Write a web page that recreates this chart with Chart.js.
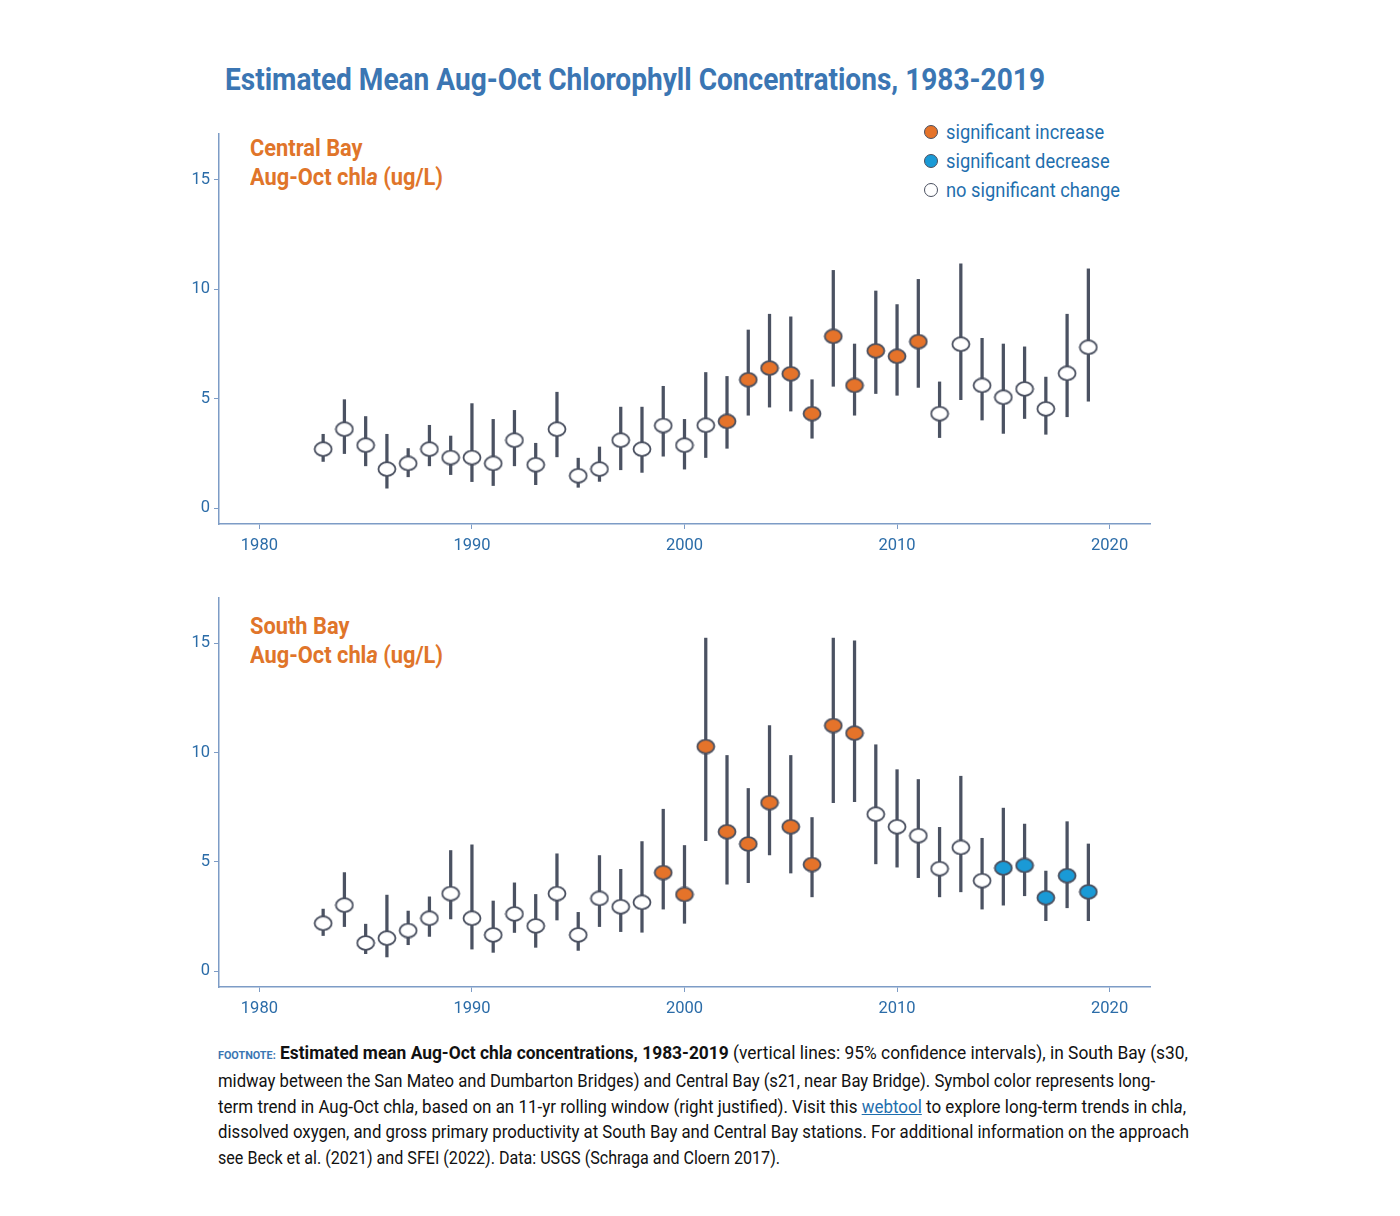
<!DOCTYPE html>
<html>
<head>
<meta charset="utf-8">
<script src="https://cdn.jsdelivr.net/npm/chart.js@4.4.1/dist/chart.umd.min.js"></script>
<style>
  body { margin:0; background:#fff; width:1400px; height:1216px; position:relative; overflow:hidden;
         font-family:Roboto,'Noto Sans',sans-serif; }
  .fit { position:absolute; white-space:nowrap; transform-origin:0 0; }
  #title { left:225px; top:61px; margin:0; font-size:31px; font-weight:bold; color:#3b76b3; }
  .panel { left:250px; color:#e0752a; font-weight:bold; font-size:24px; line-height:29px; }
  .wrap { position:absolute; left:170px; width:990px; }
  #legend { left:946px; top:118px; color:#1f6fae; font-size:21px; line-height:29px; }
  .dot { position:absolute; left:924px; width:12px; height:12px; border-radius:50%; border:1.6px solid #4a5060; }
  #foot { position:absolute; left:218px; top:1041px; font-size:18.5px; line-height:25.8px; color:#111; }
  #foot .ln { white-space:nowrap; transform-origin:0 0; width:max-content; }
  #foot .lab { color:#3b76b3; font-weight:bold; font-size:11.5px; }
  #foot a { color:#1f6fae; }
</style>
</head>
<body>
<h1 id="title" class="fit">Estimated Mean Aug-Oct Chlorophyll Concentrations, 1983-2019</h1>
<div class="panel fit" style="top:134px"><div>Central Bay</div><div class="w">Aug-Oct chl<i>a</i> (ug/L)</div></div>
<div class="panel fit" style="top:612px"><div>South Bay</div><div class="w">Aug-Oct chl<i>a</i> (ug/L)</div></div>
<span class="dot" style="top:125px;background:#e5732a"></span>
<span class="dot" style="top:154px;background:#1a9ad6"></span>
<span class="dot" style="top:183px;background:#fff"></span>
<div id="legend" class="fit">
  <div>significant increase</div>
  <div>significant decrease</div>
  <div class="w">no significant change</div>
</div>
<div class="wrap" style="top:120px;height:445px"><canvas id="central"></canvas></div>
<div class="wrap" style="top:584px;height:444px"><canvas id="south"></canvas></div>
<div id="foot">
  <div class="ln" data-w="970"><span class="lab">FOOTNOTE:</span> <b>Estimated mean Aug-Oct chl<i>a</i> concentrations, 1983-2019</b> (vertical lines: 95% confidence intervals), in South Bay (s30,</div>
  <div class="ln" data-w="937">midway between the San Mateo and Dumbarton Bridges) and Central Bay (s21, near Bay Bridge). Symbol color represents long-</div>
  <div class="ln" data-w="968">term trend in Aug-Oct chl<i>a</i>, based on an 11-yr rolling window (right justified). Visit this <a href="#">webtool</a> to explore long-term trends in chl<i>a</i>,</div>
  <div class="ln" data-w="971">dissolved oxygen, and gross primary productivity at South Bay and Central Bay stations. For additional information on the approach</div>
  <div class="ln" data-w="562">see Beck et al. (2021) and SFEI (2022). Data: USGS (Schraga and Cloern 2017).</div>
</div>

<script>
var years = [1983,1984,1985,1986,1987,1988,1989,1990,1991,1992,1993,1994,1995,1996,1997,1998,1999,
             2000,2001,2002,2003,2004,2005,2006,2007,2008,2009,2010,2011,2012,2013,2014,2015,2016,2017,2018,2019];

// Central Bay (s21)
var cbMean = [2.69,3.60,2.87,1.78,2.04,2.69,2.31,2.31,2.04,3.10,1.98,3.60,1.48,1.78,3.10,2.69,3.77,
              2.87,3.78,3.96,5.86,6.39,6.13,4.31,7.84,5.60,7.18,6.93,7.60,4.31,7.48,5.60,5.06,5.44,4.53,6.15,7.34];
var cbLow  = [2.13,2.49,1.93,0.91,1.43,1.93,1.53,1.21,1.03,1.93,1.07,2.34,0.95,1.22,1.75,1.63,2.37,
              1.78,2.31,2.73,4.24,4.61,4.43,3.19,5.56,4.24,5.23,5.15,5.51,3.22,4.95,4.02,3.41,4.09,3.37,4.17,4.88];
var cbHigh = [3.37,4.95,4.18,3.37,2.72,3.78,3.29,4.77,4.05,4.46,2.96,5.29,2.28,2.79,4.61,4.61,5.56,
              4.05,6.19,6.01,8.13,8.85,8.73,5.86,10.85,7.49,9.91,9.29,10.44,5.76,11.15,7.75,7.49,7.36,5.98,8.85,10.92];
var cbTrend = ['n','n','n','n','n','n','n','n','n','n','n','n','n','n','n','n','n',
               'n','n','i','i','i','i','i','i','i','i','i','i','n','n','n','n','n','n','n','n'];

// South Bay (s30)
var sbMean = [2.19,3.02,1.29,1.51,1.86,2.42,3.55,2.42,1.66,2.62,2.07,3.55,1.66,3.33,2.95,3.15,4.51,
              3.51,10.28,6.38,5.82,7.71,6.61,4.88,11.24,10.89,7.18,6.61,6.20,4.69,5.66,4.14,4.72,4.84,3.36,4.37,3.63];
var sbLow  = [1.63,2.04,0.80,0.65,1.21,1.59,2.39,1.01,0.86,1.77,1.09,2.34,0.95,2.04,1.81,1.78,2.84,
              2.19,5.97,3.98,4.05,5.32,4.49,3.40,7.71,7.76,4.91,4.76,4.28,3.40,3.63,2.84,3.02,3.45,2.31,2.90,2.31];
var sbHigh = [2.84,4.51,2.15,3.48,2.75,3.40,5.52,5.78,3.21,4.04,3.51,5.37,2.69,5.29,4.66,5.93,7.41,
              5.75,15.24,9.87,8.36,11.24,9.87,7.03,15.24,15.12,10.36,9.22,8.77,6.58,8.92,6.08,7.46,6.73,4.58,6.84,5.82];
var sbTrend = ['n','n','n','n','n','n','n','n','n','n','n','n','n','n','n','n','i',
               'i','i','i','i','i','i','i','i','i','n','n','n','n','n','n','d','d','d','d','d'];

var xTicks = [1980,1990,2000,2010,2020];
var yTicks = [0,5,10,15];

var trendFill = { i:'#e5732a', d:'#1a9ad6', n:'#ffffff' };
var FONT = "Roboto,'Noto Sans',sans-serif";
var axisCol = '#7d9cc6';
var tickCol = '#2b6ca8';
var barCol = '#4b5262';

// squeeze text blocks horizontally so they match the condensed type of the original
function textWidth(el){
  var r = document.createRange();
  r.selectNodeContents(el);
  return r.getBoundingClientRect().width;
}
function fitX(el, target){
  var ref = el.querySelector('.w') || el;
  el.style.transform = 'scaleX(' + (target / textWidth(ref)) + ')';
}
fitX(document.getElementById('title'), 820);
document.querySelectorAll('.panel').forEach(function(p){ fitX(p, 193); });
fitX(document.getElementById('legend'), 174);
document.querySelectorAll('#foot .ln').forEach(function(l){ fitX(l, +l.dataset.w); });

// oval marker drawn into a small canvas
function oval(fill){
  var c = document.createElement('canvas');
  c.width = 20; c.height = 16;
  var g = c.getContext('2d');
  g.beginPath();
  g.ellipse(10, 8, 8.5, 6.8, 0, 0, Math.PI*2);
  g.fillStyle = fill; g.fill();
  g.lineWidth = 1.8; g.strokeStyle = '#4a5060'; g.stroke();
  return c;
}
var markers = { i:oval(trendFill.i), d:oval(trendFill.d), n:oval(trendFill.n) };

function makeChart(id, mean, low, high, trend){
  var bars = years.map(function(y,k){ return { x:y, y:[low[k], high[k]] }; });
  var pts = years.map(function(y,k){ return { x:y, y:mean[k] }; });
  new Chart(document.getElementById(id), {
    data: {
      datasets: [
        { type:'bar', data:bars, backgroundColor:barCol, barThickness:2.6, order:2 },
        { type:'scatter', data:pts, order:1,
          pointStyle: trend.map(function(t){ return markers[t]; }),
          pointRadius:8, pointHoverRadius:8 }
      ]
    },
    options: {
      responsive:true, maintainAspectRatio:false, animation:false,
      layout:{ padding:{ top:11, right:10 } },
      plugins:{ legend:{ display:false }, tooltip:{ enabled:false } },
      scales:{
        x:{ type:'linear', min:1978.1, max:2021.9, offset:false,
            afterBuildTicks:function(s){ s.ticks = xTicks.map(function(v){ return {value:v}; }); },
            afterFit:function(s){ s.height = 41; },
            grid:{ offset:false, drawOnChartArea:false, drawTicks:true, tickLength:5, color:axisCol },
            border:{ color:axisCol, width:1.5 },
            ticks:{ color:tickCol, font:{ family:FONT, size:16.5 }, padding:7, maxRotation:0,
                    callback:function(v){ return String(v); } } },
        y:{ type:'linear', min:-0.725, max:17.08,
            afterBuildTicks:function(s){ s.ticks = yTicks.map(function(v){ return {value:v}; }); },
            afterFit:function(s){ s.width = 49; },
            grid:{ drawOnChartArea:false, drawTicks:true, tickLength:5, color:axisCol },
            border:{ color:axisCol, width:1.5 },
            ticks:{ color:tickCol, font:{ family:FONT, size:16.5 }, padding:4 } }
      }
    }
  });
}

makeChart('central', cbMean, cbLow, cbHigh, cbTrend);
makeChart('south', sbMean, sbLow, sbHigh, sbTrend);
</script>
</body>
</html>
